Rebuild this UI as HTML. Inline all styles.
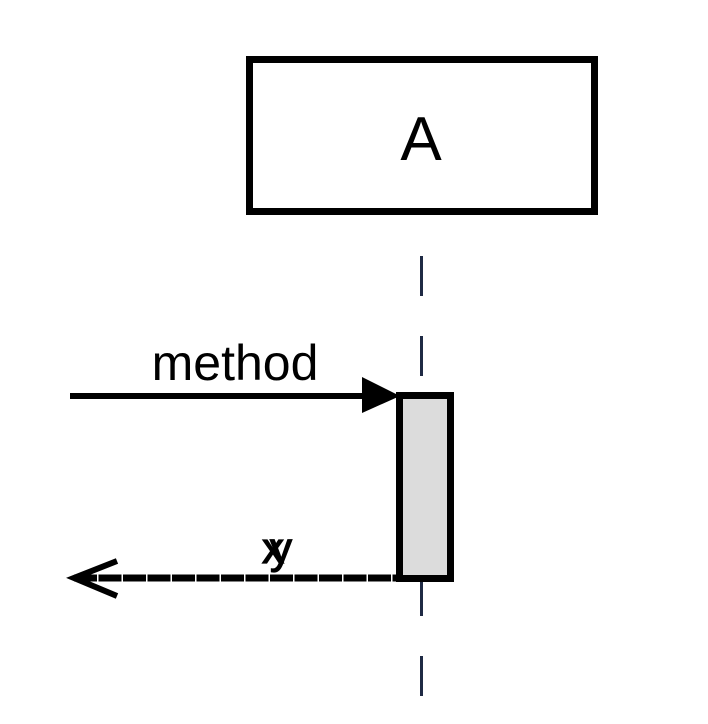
<!DOCTYPE html>
<html><head><meta charset="utf-8"><style>html,body{margin:0;padding:0;background:#fff;}svg{display:block}</style></head>
<body>
<svg width="708" height="724" viewBox="0 0 708 724" font-family="Liberation Sans, sans-serif">
  <line x1="421.5" y1="256" x2="421.5" y2="700" stroke="#1f2a44" stroke-width="3" stroke-dasharray="40 40"/>
  <g>
    <rect x="249.5" y="59.5" width="345" height="152" fill="#fff" stroke="#000" stroke-width="7"/>
    <text x="421" y="160" font-size="62" text-anchor="middle" fill="#000">A</text>
  </g>
  <g>
    <line x1="70" y1="396" x2="370" y2="396" stroke="#000" stroke-width="6"/>
    <polygon points="362,377 400,396 362,413" fill="#000"/>
    <text x="235" y="380" font-size="50" text-anchor="middle" fill="#000">method</text>
  </g>
  <rect x="399.5" y="395.5" width="51" height="183" fill="#dcdcdc" stroke="#000" stroke-width="7"/>
  <g>
    <line x1="74" y1="578" x2="397" y2="578" stroke="#000" stroke-width="7" stroke-dasharray="23 1.5"/>
    <polyline points="117,561 74,578 117,596" fill="none" stroke="#000" stroke-width="6"/>
    <text x="262" y="563" font-size="44" fill="#000" stroke="#000" stroke-width="1.2">x</text>
    <text x="270" y="563" font-size="44" fill="#000" stroke="#000" stroke-width="1.2">y</text>
  </g>
</svg>
</body></html>
